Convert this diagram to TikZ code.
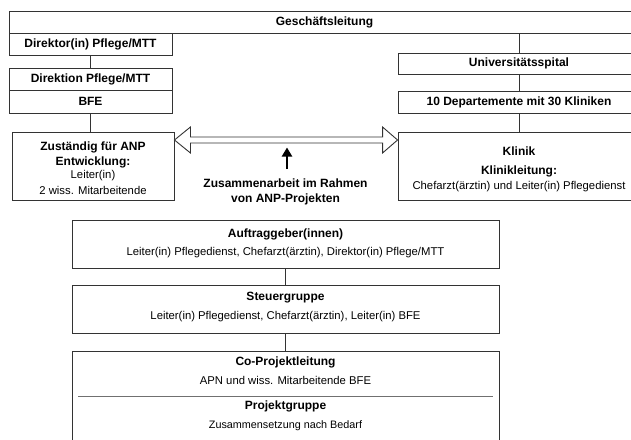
\documentclass[tikz,border=0pt]{standalone}
\usepackage{fontspec}
\setmainfont{Liberation Sans}
\usetikzlibrary{arrows.meta,calc}
\definecolor{lineg}{HTML}{333333}
\definecolor{sepg}{HTML}{707070}
\tikzset{
  box/.style={draw=lineg, line width=0.9pt, fill=white, inner sep=0pt, minimum width=#1},
  bt/.style={inner sep=0pt, font=\fontsize{12}{14}\selectfont\bfseries},
  rt/.style={inner sep=0pt, font=\fontsize{11.3}{13}\selectfont},
  st/.style={inner sep=0pt, font=\fontsize{10.8}{12}\selectfont},
  conn/.style={draw=lineg, line width=0.9pt}
}
\begin{document}
\begin{tikzpicture}[x=1pt,y=-1pt]
\clip (0,0) rectangle (631,439);
\fill[white] (0,0) rectangle (631,439);
% left column
\node[box=631pt, minimum height=22pt] (gl) at (324.5,22) {};
\node[bt] (glt) at (324.5,22) {Geschäftsleitung};
\node[box=163pt, minimum height=22pt] (dir) at (90.5,44) {};
\node[bt] (dirt) at (90.5,44) {Direktor(in) Pflege/MTT};
\node[box=163pt, minimum height=22pt] (dion) at (90.5,79) {};
\node[bt] (diont) at (90.5,79) {Direktion Pflege/MTT};
\node[box=163pt, minimum height=23pt] (bfe) at (90.5,101.5) {};
\node[bt] (bfet) at (90.5,101.5) {BFE};
\node[box=162pt, minimum height=68pt] (zus) at (93,166) {};
\node[bt] (zus1) at (93,147) {Zuständig für ANP};
\node[bt] (zus2) at (93,162) {Entwicklung:};
\node[rt] (zus3) at (93,176) {Leiter(in)};
\node[rt] (zus4) at (93,190) {2 wiss. Mitarbeitende};
% right column
\node[box=242pt, minimum height=21pt] (uni) at (519,63.5) {};
\node[bt] (unit) at (519,63.5) {Universitätsspital};
\node[box=242pt, minimum height=22pt] (dep) at (519,102) {};
\node[bt] (dept) at (519,102) {10 Departemente mit 30 Kliniken};
\node[box=242pt, minimum height=68pt] (kli) at (519,166) {};
\node[bt] (kli1) at (519,151.5) {Klinik};
\node[bt] (kli2) at (519,171.5) {Klinikleitung:};
\node[rt] (kli3) at (519,187) {Chefarzt(ärztin) und Leiter(in) Pflegedienst};
% bottom column
\node[box=427pt, minimum height=48pt] (auf) at (285.5,244) {};
\node[bt] (auf1) at (285.5,234) {Auftraggeber(innen)};
\node[rt] (auf2) at (285.5,253) {Leiter(in) Pflegedienst, Chefarzt(ärztin), Direktor(in) Pflege/MTT};
\node[box=427pt, minimum height=48pt] (ste) at (285.5,309) {};
\node[bt] (ste1) at (285.5,298) {Steuergruppe};
\node[rt] (ste2) at (285.5,317) {Leiter(in) Pflegedienst, Chefarzt(ärztin), Leiter(in) BFE};
\node[box=427pt, minimum height=94pt] (cop) at (285.5,398) {};
\node[bt] (cop1) at (285.5,362) {Co-Projektleitung};
\node[rt] (cop2) at (285.5,380) {APN und wiss. Mitarbeitende BFE};
\node[bt] (cop3) at (285.5,406.5) {Projektgruppe};
\node[st] (cop4) at (285.5,426) {Zusammensetzung nach Bedarf};
\coordinate (sepl) at (78,396.5);
\coordinate (sepr) at (493,396.5);
\draw[draw=sepg, line width=1.4pt] (sepl) -- (sepr);
% connectors
\draw[conn] (dir.south) -- (dion.north);
\draw[conn] (bfe.south) -- (zus.north -| bfe.south);
\draw[conn] (gl.south -| uni.north) -- (uni.north);
\draw[conn] (uni.south) -- (dep.north);
\draw[conn] (dep.south) -- (kli.north);
\draw[conn] (auf.south) -- (ste.north);
\draw[conn] (ste.south) -- (cop.north);
% hollow double arrow
\coordinate (la) at ($(zus.east)+(0,-26)$);
\coordinate (ra) at ($(kli.west)+(0,-26)$);
\draw[draw=lineg, line width=0.9pt, fill=white]
  (la) -- ($(la)+(16,-13)$) -- ($(la)+(16,-3)$) -- ($(ra)+(-15,-3)$) -- ($(ra)+(-15,-13)$)
  -- (ra) -- ($(ra)+(-15,13)$) -- ($(ra)+(-15,3)$) -- ($(la)+(16,3)$) -- ($(la)+(16,13)$) -- cycle;
% up arrow and label
\node[bt, align=center] (lab) at (285.5,192) {Zusammenarbeit im Rahmen\\[1pt]von ANP-Projekten};
\coordinate (upb) at (287,169);
\coordinate (upt) at (287,147.5);
\draw[line width=2.4pt, -{Triangle[width=10pt,length=9pt]}] (upb) -- (upt);
\end{tikzpicture}
\end{document}
